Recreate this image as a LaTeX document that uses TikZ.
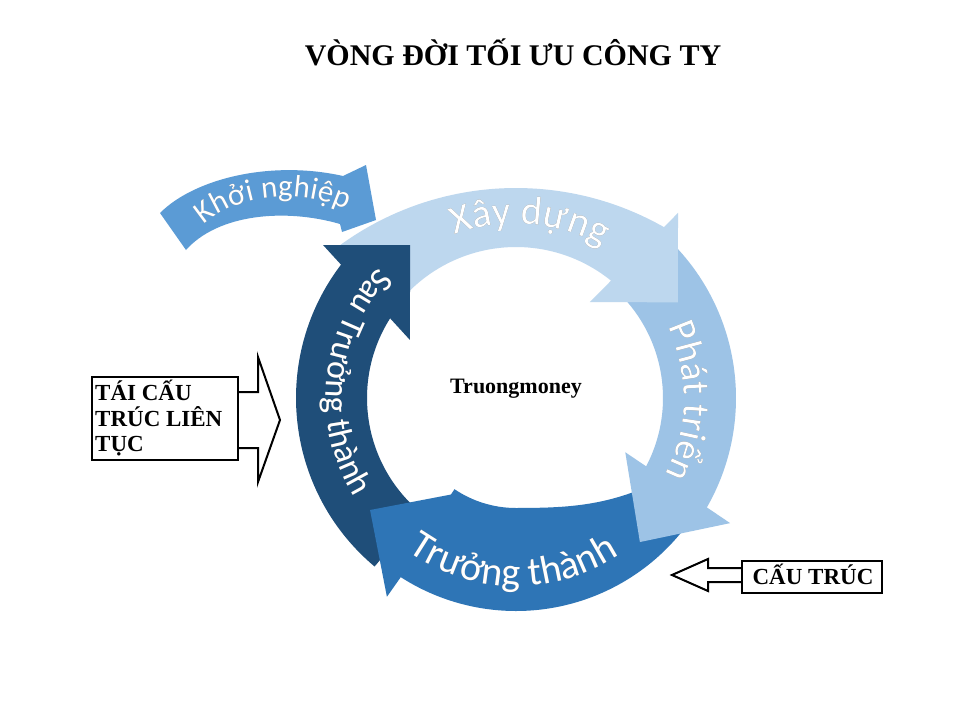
\documentclass[tikz,border=0pt]{standalone}
\usepackage{fontspec}
\setmainfont{Liberation Serif}
\newfontfamily\carl{Carlito}
\usetikzlibrary{decorations.text}
\definecolor{cXay}{HTML}{BDD7EE}
\definecolor{cPhat}{HTML}{9DC3E6}
\definecolor{cTruong}{HTML}{2E75B6}
\definecolor{cSau}{HTML}{1F4E79}
\definecolor{cKhoi}{HTML}{5B9BD5}
\tikzset{
  boxline/.style={draw=black, line width=2.2pt},
  hollowarrow/.style={draw=black, line width=2pt, line join=miter},
  titletext/.style={font=\bfseries\fontsize{30}{30}\selectfont, anchor=base, inner sep=0pt},
  boxtext/.style={font=\bfseries\fontsize{23}{23}\selectfont, anchor=base west, inner sep=0pt},
  centertext/.style={font=\bfseries\fontsize{22}{22}\selectfont, anchor=base, inner sep=0pt},
}
% #1 radius, #2 start angle, #3 end angle, #4 font size, #5 text
\newcommand\ringtext[5]{%
  \path[decorate, transform canvas={shift={(1.5,-1.5)}},
    decoration={text along path, text align=center, text color=black!55,
      text={|\carl\fontsize{#4}{#4}\selectfont|#5}}]
    (#2:#1) arc[start angle=#2, end angle=#3, radius=#1];
  \path[decorate,
    decoration={text along path, text align=center, text color=white,
      text={|\carl\fontsize{#4}{#4}\selectfont|#5}}]
    (#2:#1) arc[start angle=#2, end angle=#3, radius=#1];
}
\begin{document}
\begin{tikzpicture}[x=1pt,y=1pt]
\useasboundingbox (0,0) rectangle (978,-723);
\fill[white] (0,0) rectangle (978,-723);

% title
\node[titletext] (title) at (513,-65) {VÒNG ĐỜI TỐI ƯU CÔNG TY};

% cycle
\coordinate (C) at (516,-398);
\begin{scope}[shift={(C)}]
  % bands
  \fill[cXay] plot[domain=142:47.8, samples=50] (\x:{210+0.0096*(\x-90)^2})
     -- (47.8:151) arc[start angle=47.8, end angle=142, radius=151] -- cycle;
  \fill[cPhat] (46:220) arc[start angle=46, end angle=-31.3, radius=220]
     -- (-31.3:147) arc[start angle=-31.3, end angle=46, radius=147] -- cycle;
  \fill[cTruong] (-32:213) arc[start angle=-32, end angle=-124, radius=213]
     -- (-124:110) arc[start angle=-124, end angle=-90, radius=110]
     -- plot[domain=-90:-32, samples=40] (\x:{110+40*((\x+90)/51)^2}) -- cycle;
  \fill[cSau] (230:220) arc[start angle=230, end angle=140.6, radius=220]
     -- (140.6:149) arc[start angle=140.6, end angle=230, radius=149] -- cycle;
  % heads
  \fill[cXay] (48.8:246) -- (30.6:188) -- (52.4:121) -- cycle;
  \fill[cPhat] (-30.3:248) -- (-49.3:190) -- (-26.4:122) -- cycle;
  \fill[cTruong] (237:237) -- (217.5:184) -- (239.5:110) -- cycle;
  \fill[cSau] (141.6:246) -- (124.7:186) -- (151.3:121) -- cycle;
  % labels
  \ringtext{174}{131}{40}{40}{Xây dựng}
  \ringtext{168}{59}{-61}{38}{Phát triển}
  \ringtext{188}{-148}{-34}{40}{Trưởng thành}
  \ringtext{190}{104}{244}{34}{Sau Trưởng thành}
\end{scope}

% Khoi nghiep arrow
\fill[cKhoi] (160,-213) .. controls (195,-178) and (272,-160) .. (343,-176)
   -- (366,-165) -- (376,-220) -- (342,-232) -- (340,-224)
   .. controls (285,-208) and (218,-214) .. (186,-250) -- cycle;
\path[decorate, transform canvas={shift={(1.5,-1.5)}},
  decoration={text along path, text align=center, text color=black!55,
    text={|\carl\fontsize{31}{31}\selectfont|Khởi nghiệp}}]
  (192,-238) .. controls (222,-196) and (300,-180) .. (362,-218);
\path[decorate,
  decoration={text along path, text align=center, text color=white,
    text={|\carl\fontsize{31}{31}\selectfont|Khởi nghiệp}}]
  (192,-238) .. controls (222,-196) and (300,-180) .. (362,-218);

% center
\node[centertext] (center) at (516,-393) {Truongmoney};

% left box
\draw[boxline] (92,-377) rectangle (238,-460);
\node[boxtext] (l1) at (95,-400) {TÁI CẤU};
\node[boxtext] (l2) at (95,-426) {TRÚC LIÊN};
\node[boxtext] (l3) at (95,-451) {TỤC};
\draw[hollowarrow] (238,-392) -- (258,-392) -- (258,-357) -- (280,-420)
   -- (258,-482) -- (258,-448) -- (238,-448);

% right box
\draw[boxline] (742,-561) rectangle (882,-593);
\node[boxtext, anchor=base] (r1) at (813,-584) {CẤU TRÚC};
\draw[hollowarrow] (742,-568) -- (708,-568) -- (708,-559) -- (672,-575)
   -- (708,-591) -- (708,-582) -- (742,-582);
\end{tikzpicture}
\end{document}
